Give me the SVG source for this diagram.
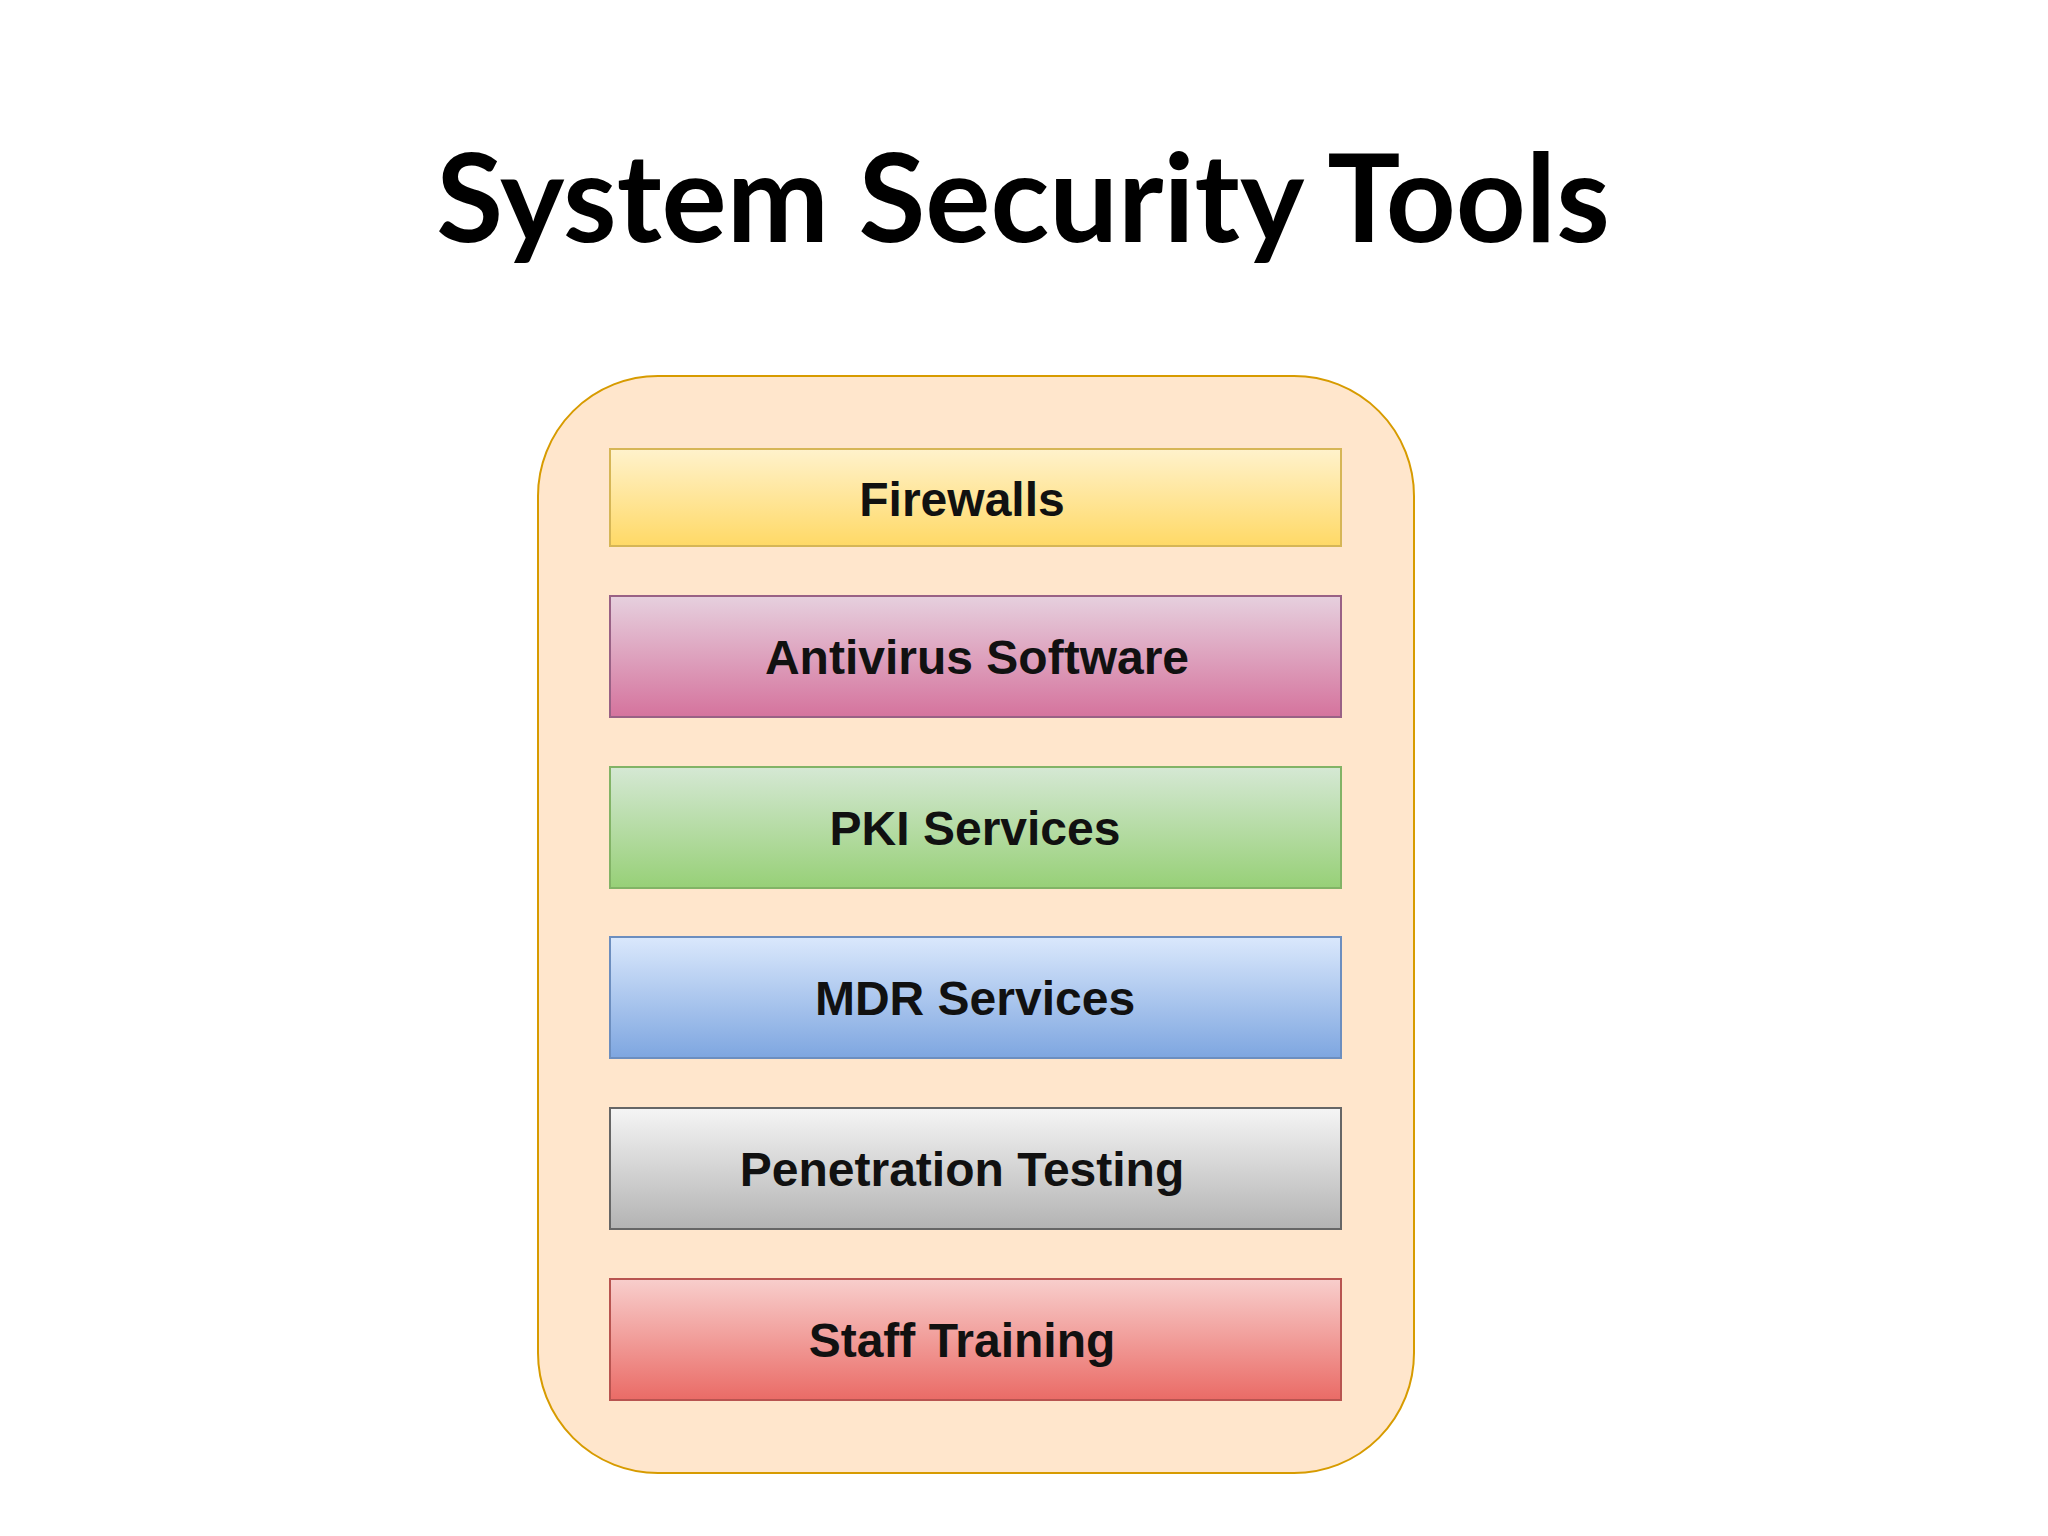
<svg xmlns="http://www.w3.org/2000/svg" width="2048" height="1536" viewBox="0 0 2048 1536">
<defs>
<linearGradient id="gy" x1="0" y1="0" x2="0" y2="1"><stop offset="0" stop-color="#fff2cc"/><stop offset="1" stop-color="#ffd966"/></linearGradient>
<linearGradient id="gp" x1="0" y1="0" x2="0" y2="1"><stop offset="0" stop-color="#e6d0de"/><stop offset="1" stop-color="#d5739d"/></linearGradient>
<linearGradient id="gg" x1="0" y1="0" x2="0" y2="1"><stop offset="0" stop-color="#d5e8d4"/><stop offset="1" stop-color="#97d077"/></linearGradient>
<linearGradient id="gb" x1="0" y1="0" x2="0" y2="1"><stop offset="0" stop-color="#dae8fc"/><stop offset="1" stop-color="#7ea6e0"/></linearGradient>
<linearGradient id="gs" x1="0" y1="0" x2="0" y2="1"><stop offset="0" stop-color="#f5f5f5"/><stop offset="1" stop-color="#b3b3b3"/></linearGradient>
<linearGradient id="gr" x1="0" y1="0" x2="0" y2="1"><stop offset="0" stop-color="#f8cecc"/><stop offset="1" stop-color="#ea6b66"/></linearGradient>
</defs>
<style>
.l{font-family:"Liberation Sans",Arial,sans-serif;font-weight:bold;font-size:48px;fill:#111;text-anchor:middle;dominant-baseline:central}
.b{stroke-width:2}
</style>
<rect width="2048" height="1536" fill="#fff"/>
<text x="1023" y="242" font-family="Lato,'Open Sans',sans-serif" font-weight="bold" font-size="122" text-anchor="middle" fill="#000">System Security Tools</text>
<g id="container"><rect x="538" y="376" width="876" height="1097" rx="120" ry="120" fill="#ffe6cc" stroke="#d79b00" stroke-width="2"/></g>
<g id="firewalls"><rect class="b" x="610" y="449" width="731" height="97" fill="url(#gy)" stroke="#d6b656"/><text class="l" x="962" y="499">Firewalls</text></g>
<g id="antivirus"><rect class="b" x="610" y="596" width="731" height="121" fill="url(#gp)" stroke="#996185"/><text class="l" x="977" y="657">Antivirus Software</text></g>
<g id="pki"><rect class="b" x="610" y="767" width="731" height="121" fill="url(#gg)" stroke="#82b366"/><text class="l" x="975" y="828">PKI Services</text></g>
<g id="mdr"><rect class="b" x="610" y="937" width="731" height="121" fill="url(#gb)" stroke="#6c8ebf"/><text class="l" x="975" y="998">MDR Services</text></g>
<g id="pentest"><rect class="b" x="610" y="1108" width="731" height="121" fill="url(#gs)" stroke="#666666"/><text class="l" x="962" y="1169">Penetration Testing</text></g>
<g id="training"><rect class="b" x="610" y="1279" width="731" height="121" fill="url(#gr)" stroke="#b85450"/><text class="l" x="962" y="1340">Staff Training</text></g>
<g id="connectors"/>
</svg>
